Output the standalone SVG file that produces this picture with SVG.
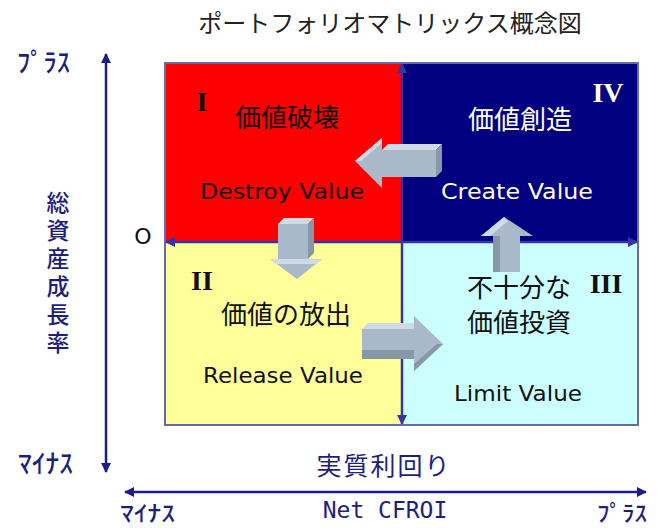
<svg xmlns="http://www.w3.org/2000/svg" width="668" height="528" viewBox="0 0 668 528">
<defs>
<marker id="ah" viewBox="0 0 10 10" refX="9" refY="5" markerWidth="4" markerHeight="4" orient="auto-start-reverse" markerUnits="strokeWidth">
<path d="M0,0 L10,5 L0,10 Z" fill="#1c1c8c"/>
</marker>
<marker id="ahi" viewBox="0 0 10 10" refX="9" refY="5" markerWidth="4" markerHeight="4" orient="auto-start-reverse" markerUnits="strokeWidth">
<path d="M0,0 L10,5 L0,10 Z" fill="#3535a5"/>
</marker>
</defs>
<style>
.jp{font-family:"Noto Sans CJK JP","Liberation Sans",sans-serif;}
.en{font-family:"DejaVu Sans","Noto Sans CJK JP",sans-serif;}
.hk{font-family:"Noto Sans CJK JP",sans-serif;font-weight:500;}
.rn{font-family:"Liberation Serif","DejaVu Serif",serif;font-weight:bold;}
.ax{stroke:#1c1c8c;stroke-width:2.5;fill:none;}
.iax{stroke:#3535a5;stroke-width:2.5;fill:none;}
.nv{fill:#1e1e80;}
.face{fill:#a9b9c9;}
.top{fill:#cfdae4;}
.side{fill:#8797a8;}
</style>
<rect width="668" height="528" fill="#ffffff"/>
<text class="jp" x="390" y="32" font-size="24" text-anchor="middle" fill="#222222">ポートフォリオマトリックス概念図</text>

<g id="quadrant-I">
<rect x="165" y="63" width="237" height="179" fill="#ff0000"/>
<text class="rn" x="202" y="111" font-size="28" text-anchor="middle" fill="#111">I</text>
<text class="jp" x="287" y="127" font-size="26" text-anchor="middle" fill="#111">価値破壊</text>
<text class="en" x="282" y="199" font-size="21" text-anchor="middle" textLength="164" lengthAdjust="spacingAndGlyphs" fill="#111">Destroy Value</text>
</g>
<g id="quadrant-IV">
<rect x="402" y="63" width="236" height="179" fill="#000080"/>
<text class="rn" x="608" y="102" font-size="28" text-anchor="middle" fill="#ffffff">IV</text>
<text class="jp" x="520" y="129" font-size="26" text-anchor="middle" fill="#ffffff">価値創造</text>
<text class="en" x="517" y="199" font-size="21" text-anchor="middle" textLength="152" lengthAdjust="spacingAndGlyphs" fill="#ffffff">Create Value</text>
</g>
<g id="quadrant-II">
<rect x="165" y="242" width="237" height="183" fill="#ffff99"/>
<text class="rn" x="202" y="290" font-size="28" text-anchor="middle" fill="#111">II</text>
<text class="jp" x="286" y="324" font-size="26" text-anchor="middle" fill="#111">価値の放出</text>
<text class="en" x="283" y="383" font-size="21" text-anchor="middle" textLength="160" lengthAdjust="spacingAndGlyphs" fill="#111">Release Value</text>
</g>
<g id="quadrant-III">
<rect x="402" y="242" width="236" height="183" fill="#ccffff"/>
<text class="rn" x="606" y="293" font-size="28" text-anchor="middle" fill="#111">III</text>
<text class="jp" x="519" y="297" font-size="26" text-anchor="middle" fill="#111">不十分な</text>
<text class="jp" x="519" y="332" font-size="26" text-anchor="middle" fill="#111">価値投資</text>
<text class="en" x="518" y="401" font-size="21" text-anchor="middle" textLength="128" lengthAdjust="spacingAndGlyphs" fill="#111">Limit Value</text>
</g>

<g id="axes">
<rect x="165" y="63" width="473" height="362" fill="none" stroke="#6868b0" stroke-width="2"/>
<line class="iax" x1="402" y1="424" x2="402" y2="64" marker-start="url(#ahi)" marker-end="url(#ahi)"/>
<line class="iax" x1="166" y1="242" x2="637" y2="242" marker-start="url(#ahi)" marker-end="url(#ahi)"/>
<line class="ax" x1="106" y1="54" x2="106" y2="472" marker-start="url(#ah)" marker-end="url(#ah)"/>
<line class="ax" x1="125" y1="492" x2="646" y2="492" marker-start="url(#ah)" marker-end="url(#ah)"/>
</g>

<g id="connectors">
<g id="arrow-IV-to-I">
<polygon class="top" points="382,150 388,144 442,144 436,150"/>
<polygon class="side" points="436,150 442,144 442,171 436,177"/>
<polygon class="face" points="355,161 382,138 382,150 436,150 436,177 382,177 382,188"/>
<polygon class="top" points="355,161 382,138 382,143 361,161"/>
</g>
<g id="arrow-I-to-II">
<polygon class="top" points="278,224 284,218 314,218 308,224"/>
<polygon class="side" points="308,224 314,218 314,253 308,259"/>
<polygon class="face" points="278,224 308,224 308,259 322,259 297,279 270,259 278,259"/>
<polygon class="top" points="270,259 322,259 316,264 276,264"/>
</g>
<g id="arrow-II-to-III">
<polygon class="top" points="362,329 368,323 420,323 414,329"/>
<polygon class="face" points="362,329 414,329 414,316 443,344 414,371 414,359 362,359"/>
<polygon class="side" points="362,350 414,350 414,359 362,359"/>
<polygon class="side" points="414,371 443,344 437,344 414,364"/>
</g>
<g id="arrow-III-to-IV">
<polygon class="face" points="493,272 493,236 481,236 504,217 533,236 520,236 520,272"/>
<polygon class="side" points="493,272 493,236 500,236 500,272"/>
<polygon class="top" points="481,236 504,217 508,221 490,236"/>
</g>
</g>

<g id="labels">
<text class="hk nv" x="17" y="72" font-size="26" textLength="53" lengthAdjust="spacingAndGlyphs">ﾌﾟﾗｽ</text>
<text class="hk nv" x="18" y="473" font-size="26" textLength="55" lengthAdjust="spacingAndGlyphs">ﾏｲﾅｽ</text>
<text class="jp nv" x="58" y="191" font-size="23" font-weight="500" writing-mode="vertical-rl" letter-spacing="5">総資産成長率</text>
<text class="en" x="143" y="244" font-size="22" text-anchor="middle" fill="#111">O</text>
<text class="jp nv" x="384" y="475" font-size="25" text-anchor="middle" letter-spacing="2">実質利回り</text>
<text class="nv" x="385" y="518" font-size="23" text-anchor="middle" font-family="DejaVu Sans Mono, Liberation Mono, monospace">Net CFROI</text>
<text class="hk nv" x="120" y="521" font-size="22" textLength="55" lengthAdjust="spacingAndGlyphs">ﾏｲﾅｽ</text>
<text class="hk nv" x="597" y="521" font-size="22" textLength="50" lengthAdjust="spacingAndGlyphs">ﾌﾟﾗｽ</text>
</g>
</svg>
